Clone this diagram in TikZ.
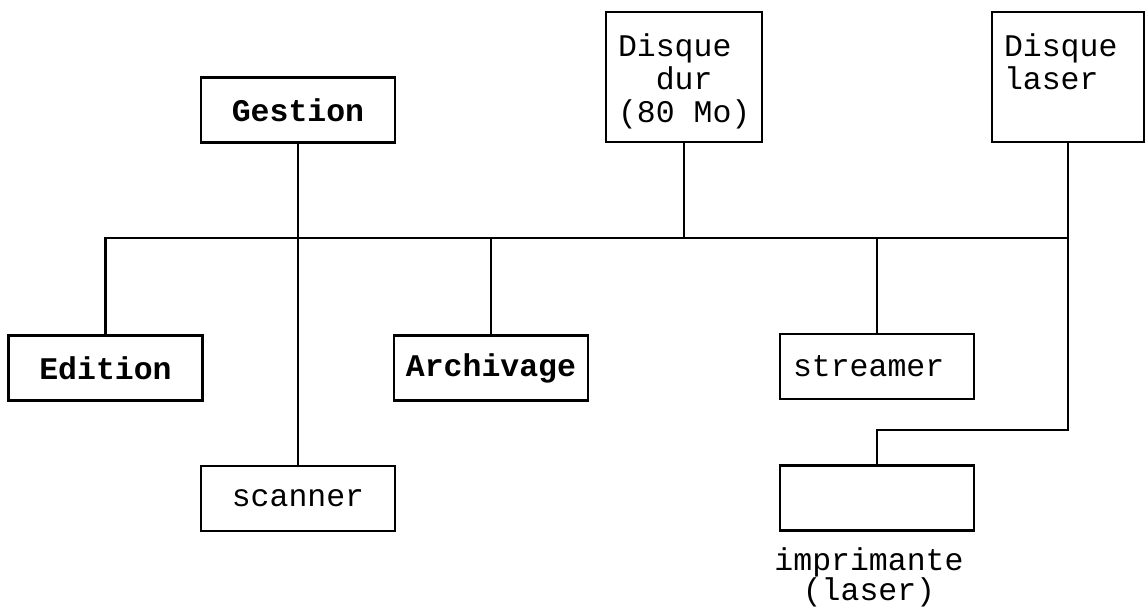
\documentclass[tikz,border=0pt]{standalone}
\usepackage{fontspec}
\setmainfont{Liberation Mono}
\usetikzlibrary{positioning}

\begin{document}
\begin{tikzpicture}[
  x=1pt, y=-1pt,
  font=\fontsize{31.5}{33}\selectfont,
  box/.style={rectangle, draw=black, line width=2.4pt, inner sep=0pt,
              minimum width=194pt, minimum height=65pt},
  prog/.style={box, font=\fontsize{31.5}{33}\selectfont\bfseries},
  dev/.style={box, text width=168pt, inner xsep=13pt, align=left},
  disk/.style={box, minimum width=156pt, minimum height=130pt},
  lab/.style={inner xsep=13pt, inner ysep=23pt, align=left, anchor=north west},
  link/.style={draw=black, line width=2.4pt},
]
\useasboundingbox (0,0) rectangle (1146,610);

% ---------------------------------------------------------------- top row
\node[prog] (gestion) at (298,110) {Gestion};
\node[disk, label={[lab]north west:Disque\\\phantom{Di}dur\\(80 Mo)}] (dur) at (684,77) {};
\node[disk, minimum width=152pt, label={[lab]north west:Disque\\laser}] (laser) at (1068,77) {};

% ---------------------------------------------------------------- bus row
\coordinate (bus) at (0,238);
\node[prog] (edition) at (105.5,368) {Edition};
\node[prog] (archiv) at (491,368) {Archivage};
\node[dev] (streamer) at (877,366.5) {streamer};

% ---------------------------------------------------------------- bottom row
\node[box, below=321pt of gestion] (scanner) {scanner};
\node[box, below=64pt of streamer,
      label={[align=center, xshift=-8pt, inner sep=0pt, label distance=16pt,
              font=\fontsize{31.5}{29}\selectfont]below:imprimante\\(laser)}] (prn) {};
\coordinate (jog) at (877,430);

\draw[link] (edition.north) -- (edition.north |- bus) -- (laser.south |- bus);
\draw[link] (gestion.south) -- (scanner.north);
\draw[link] (archiv.north) -- (archiv.north |- bus);
\draw[link] (dur.south) -- (dur.south |- bus);
\draw[link] (streamer.north) -- (streamer.north |- bus);
\draw[link] (laser.south) |- (jog) -- (prn.north);
\end{tikzpicture}
\end{document}
